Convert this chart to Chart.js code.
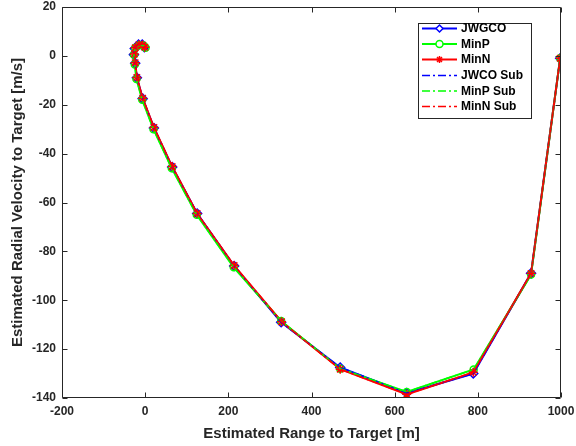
<!DOCTYPE html>
<html>
<head>
<meta charset="utf-8">
<script src="https://cdn.jsdelivr.net/npm/chart.js@4/dist/chart.umd.min.js"></script>
<style>
html,body{margin:0;padding:0;background:#fff;}
canvas{display:block;}
</style>
</head>
<body>
<canvas id="c" width="576" height="446"></canvas>
<script>
// ---- data ----
const seriesNames = ['JWGCO', 'MinP', 'MinN', 'JWCO Sub', 'MinP Sub', 'MinN Sub'];
const xTicks = [-200, 0, 200, 400, 600, 800, 1000];
const yTicks = [-140, -120, -100, -80, -60, -40, -20, 0, 20];

const rangeJWGCO = [998, 928, 789, 629, 469, 327, 214, 125, 65, 21, -6, -20, -24, -27, -25, -16, -7, -2];
const velJWGCO   = [-1, -89, -130, -138, -127.5, -109, -86, -64.5, -45.5, -29.5, -17.5, -9, -3, 0.5, 3, 4.6, 4.6, 3.6];

const rangeMinP = [998, 928, 790, 629, 469, 327, 213, 124, 64, 20, -7, -21, -25, -27, -24, -14, -4, 1];
const velMinP   = [-1, -89.5, -128.3, -137.5, -128, -108.5, -86.5, -65, -46, -30, -18, -9.5, -3.5, 0.5, 3.2, 4.3, 4.2, 3.3];

const rangeMinN = [998, 928, 789, 629, 469, 328, 214, 125, 65, 21, -6, -20, -24, -26, -24, -15, -6, -1];
const velMinN   = [-1, -89, -129.5, -138.5, -128.2, -108.8, -85.8, -64.5, -45.3, -29.3, -17.3, -8.8, -2.8, 0.8, 3.3, 4.6, 4.4, 3.5];

const rangeJWCOSub = [998, 928, 789, 629, 469, 327, 214, 125, 65, 21, -6, -20, -24, -27, -25, -16, -7, -2];
const velJWCOSub   = [-1, -89, -130, -138, -127.5, -109, -86, -64.5, -45.5, -29.5, -17.5, -9, -3, 0.5, 3, 4.6, 4.6, 3.6];

const rangeMinPSub = [998, 928, 790, 629, 469, 327, 213, 124, 64, 20, -7, -21, -25, -27, -24, -14, -4, 1];
const velMinPSub   = [-1, -89.5, -128.3, -137.5, -128, -108.5, -86.5, -65, -46, -30, -18, -9.5, -3.5, 0.5, 3.2, 4.3, 4.2, 3.3];

const rangeMinNSub = [998, 928, 789, 629, 469, 328, 214, 125, 65, 21, -6, -20, -24, -26, -24, -15, -6, -1];
const velMinNSub   = [-1, -89, -129.5, -138.5, -128.2, -108.8, -85.8, -64.5, -45.3, -29.3, -17.3, -8.8, -2.8, 0.8, 3.3, 4.6, 4.4, 3.5];

function pts(xs, ys){ return xs.map((x,i)=>({x:x, y:ys[i]})); }

const BLUE='#0000ff', GREEN='#00ff00', RED='#ff0000', AX='#262626';
const FONT = '"Liberation Sans", Arial, Helvetica, sans-serif';

function mainDs(label, data, color, style, radius, order){
  return {label, data, showLine:true, borderColor:color, backgroundColor:'rgba(0,0,0,0)',
    borderWidth:2, pointStyle:style, pointRadius:radius, pointBorderColor:color,
    pointBackgroundColor:'rgba(0,0,0,0)', pointBorderWidth:1.5, order, tension:0};
}
function subDs(label, data, color, order){
  return {label, data, showLine:true, borderColor:color, backgroundColor:'rgba(0,0,0,0)',
    borderWidth:1.5, borderDash:[8,3,2,3], pointRadius:0, order, tension:0};
}

const datasets = [
  mainDs(seriesNames[0], pts(rangeJWGCO, velJWGCO), BLUE, 'rectRot', 4.5, 6),
  mainDs(seriesNames[1], pts(rangeMinP, velMinP), GREEN, 'circle', 3.5, 5),
  mainDs(seriesNames[2], pts(rangeMinN, velMinN), RED, 'star', 4.5, 4),
  subDs(seriesNames[3], pts(rangeJWCOSub, velJWCOSub), BLUE, 3),
  subDs(seriesNames[4], pts(rangeMinPSub, velMinPSub), GREEN, 2),
  subDs(seriesNames[5], pts(rangeMinNSub, velMinNSub), RED, 1),
];

const boxPlugin = {
  id:'boxPlugin',
  afterDraw(chart){
    const ctx = chart.ctx, a = chart.chartArea;
    const xs = chart.scales.x, ys = chart.scales.y;
    ctx.save();
    ctx.strokeStyle = AX; ctx.lineWidth = 1;
    const L = Math.round(a.left)+0.5, R = Math.round(a.right)-0.5, T = Math.round(a.top)+0.5, B = Math.round(a.bottom)-0.5;
    ctx.beginPath();
    ctx.rect(L, T, R-L, B-T);
    ctx.stroke();
    const tl = 5;
    ctx.beginPath();
    xTicks.forEach(v=>{
      const px = Math.round(xs.getPixelForValue(v))+0.5;
      ctx.moveTo(px, B); ctx.lineTo(px, B-tl);
      ctx.moveTo(px, T); ctx.lineTo(px, T+tl);
    });
    yTicks.forEach(v=>{
      const py = Math.round(ys.getPixelForValue(v))+0.5;
      ctx.moveTo(L, py); ctx.lineTo(L+tl, py);
      ctx.moveTo(R, py); ctx.lineTo(R-tl, py);
    });
    ctx.stroke();

    // legend
    const bx = 418.5, by = 23.5, bw = 113, bh = 95;
    ctx.fillStyle = '#fff';
    ctx.fillRect(bx, by, bw, bh);
    ctx.strokeStyle = AX;
    ctx.strokeRect(bx, by, bw, bh);
    const rowY = [28.5, 44, 59.5, 75.5, 91, 106.5];
    ctx.font = 'bold 12px ' + FONT;
    ctx.textBaseline = 'middle';
    ctx.textAlign = 'left';
    chart.data.datasets.forEach((ds, i)=>{
      const y = rowY[i];
      ctx.save();
      ctx.strokeStyle = ds.borderColor;
      ctx.lineWidth = ds.borderWidth;
      if (ds.borderDash) ctx.setLineDash(ds.borderDash);
      ctx.beginPath(); ctx.moveTo(422, y); ctx.lineTo(457, y); ctx.stroke();
      ctx.setLineDash([]);
      if (ds.pointRadius > 0) {
        ctx.lineWidth = ds.pointBorderWidth;
        ctx.strokeStyle = ds.pointBorderColor;
        ctx.fillStyle = 'rgba(255,255,255,1)';
        Chart.helpers.drawPoint(ctx, {pointStyle: ds.pointStyle, radius: 3.5, borderWidth: ds.pointBorderWidth, rotation:0}, 439.5, y);
      }
      ctx.restore();
      ctx.fillStyle = '#000';
      ctx.fillText(ds.label, 461, y+0.5);
    });
    ctx.restore();
  }
};

new Chart(document.getElementById('c'), {
  type:'scatter',
  data:{datasets},
  options:{
    responsive:false,
    animation:false,
    layout:{padding:{top:7, right:15, left:0, bottom:0}},
    plugins:{legend:{display:false}, tooltip:{enabled:false}},
    scales:{
      x:{
        type:'linear', min:-200, max:1000,
        afterBuildTicks(s){ s.ticks = xTicks.map(v=>({value:v})); },
        afterFit(s){ s.height = 48; s.paddingLeft = 0; s.paddingRight = 0; },
        grid:{display:false, drawTicks:false},
        border:{display:false},
        ticks:{color:AX, font:{family:FONT, size:12, weight:'bold'}, padding:6, maxRotation:0, autoSkip:false,
          callback:(v)=>String(v)},
        title:{display:true, text:'Estimated Range to Target [m]', color:AX,
          font:{family:FONT, size:15, weight:'bold'}, padding:{top:0, bottom:3}}
      },
      y:{
        type:'linear', min:-140, max:20,
        afterBuildTicks(s){ s.ticks = yTicks.map(v=>({value:v})); },
        afterFit(s){ s.width = 62; s.paddingTop = 0; s.paddingBottom = 0; },
        grid:{display:false, drawTicks:false},
        border:{display:false},
        ticks:{color:AX, font:{family:FONT, size:12, weight:'bold'}, padding:6, autoSkip:false,
          callback:(v)=>String(v)},
        title:{display:true, text:'Estimated Radial Velocity to Target [m/s]', color:AX,
          font:{family:FONT, size:15, weight:'bold'}, padding:{top:9, bottom:0}}
      }
    }
  },
  plugins:[boxPlugin]
});
</script>
</body>
</html>
